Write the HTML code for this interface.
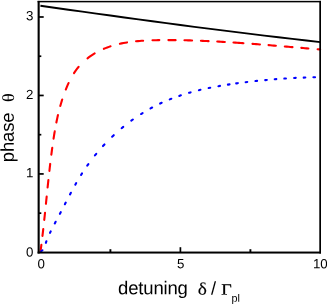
<!DOCTYPE html>
<html><head><meta charset="utf-8">
<style>
html,body{margin:0;padding:0;background:#fff;}
body{width:327px;height:305px;overflow:hidden;position:relative;font-family:"Liberation Sans",sans-serif;}
svg{position:absolute;left:0;top:0;display:block;will-change:transform;}
text{font-family:"Liberation Sans",sans-serif;fill:#000;}
.ser{font-family:"Liberation Serif",serif;}
</style></head><body>
<svg width="327" height="305" viewBox="0 0 327 305">
<rect width="327" height="305" fill="#fff"/>
<path d="M40.40,5.81 L54.40,7.77 L68.40,9.73 L82.40,11.67 L96.40,13.62 L110.40,15.55 L124.40,17.47 L138.40,19.38 L152.40,21.27 L166.40,23.14 L180.40,25.00 L194.40,26.83 L208.40,28.63 L222.40,30.42 L236.40,32.17 L250.40,33.91 L264.40,35.61 L278.40,37.28 L292.40,38.92 L306.40,40.54 L320.40,42.12" stroke="#000" stroke-width="1.9" fill="none"/>
<path d="M40.46,251.80 L40.70,249.98 L40.94,248.16 L41.18,246.34 L41.37,244.88 M42.45,235.99 L42.67,234.17 L42.88,232.35 L43.09,230.53 L43.24,229.15 M44.25,219.97 L44.44,218.15 L44.63,216.33 L44.83,214.51 L45.01,212.76 M45.93,203.81 L46.12,201.99 L46.30,200.17 L46.49,198.35 L46.67,196.53 M47.60,187.50 L47.79,185.68 L47.98,183.87 L48.18,182.05 L48.37,180.23 L48.38,180.15 M49.40,170.84 L49.61,169.02 L49.82,167.21 L50.03,165.39 L50.20,163.93 M51.34,154.62 L51.58,152.81 L51.82,150.99 L52.06,149.17 L52.24,147.86 M53.55,138.71 L53.83,136.89 L54.11,135.08 L54.41,133.27 L54.71,131.46 L54.73,131.31 M56.36,122.51 L56.72,120.71 L57.10,118.91 L57.49,117.12 L57.90,115.33 L57.95,115.12 M60.28,105.96 L60.79,104.19 L61.31,102.43 L61.85,100.68 L62.22,99.49 M65.79,89.52 L66.48,87.81 L67.20,86.10 L67.94,84.42 L68.56,83.07 M74.00,73.10 L75.01,71.58 L76.06,70.10 L77.15,68.64 L78.28,67.23 L78.60,66.84 M87.52,58.31 L88.98,57.21 L90.47,56.15 L91.99,55.13 L93.53,54.15 L94.66,53.47 M103.87,48.83 L105.56,48.14 L107.26,47.49 L108.97,46.87 L110.55,46.34 M119.89,43.79 L121.68,43.40 L123.47,43.05 L125.27,42.72 L127.01,42.43 M136.06,41.26 L137.90,41.09 L139.75,40.94 L141.59,40.80 L143.15,40.70 M152.49,40.28 L154.35,40.23 L156.20,40.19 L158.05,40.16 L159.31,40.14 M168.39,40.09 L170.23,40.09 L172.06,40.10 L173.90,40.11 L175.59,40.13 M184.44,40.27 L186.26,40.31 L188.09,40.36 L189.91,40.41 L191.74,40.46 L192.10,40.47 M200.92,40.79 L202.74,40.86 L204.56,40.94 L206.38,41.02 L208.20,41.11 L208.57,41.12 M217.25,41.57 L219.07,41.67 L220.90,41.77 L222.72,41.88 L224.55,41.99 L224.84,42.01 M233.48,42.55 L235.31,42.67 L237.14,42.79 L238.97,42.92 L240.80,43.05 L242.64,43.17 L243.44,43.23 M252.46,43.89 L254.30,44.03 L256.13,44.17 L257.96,44.31 L259.80,44.45 L259.94,44.47 M268.53,45.15 L270.36,45.29 L272.19,45.44 L274.02,45.59 L275.86,45.74 M284.79,46.48 L286.62,46.64 L288.45,46.79 L290.28,46.94 L292.11,47.10 L292.48,47.13 M301.31,47.87 L303.14,48.02 L304.96,48.18 L306.78,48.33 L308.38,48.46 M317.62,49.23 L319.43,49.37 L320.16,49.43" stroke="#ff0000" stroke-width="2.1" stroke-linecap="round" fill="none"/>
<path d="M40.90,251.56 L42.44,250.26 M45.87,242.80 L46.42,241.21 M49.98,232.89 L50.73,231.33 M54.77,223.43 L55.64,221.79 M59.90,213.79 L60.77,212.15 M64.89,204.25 L65.74,202.60 M70.00,194.43 L70.87,192.79 M75.29,184.70 L76.20,183.09 M81.04,174.96 L82.03,173.40 M87.23,165.64 L88.38,164.03 M94.92,155.44 L96.25,153.82 M102.96,146.07 L104.47,144.45 M112.14,136.69 L113.75,135.17 M121.63,128.20 L123.25,126.87 M131.28,120.66 L132.88,119.51 M141.04,114.02 L142.60,113.04 M150.52,108.42 L152.14,107.54 M160.12,103.54 L161.68,102.81 M169.73,99.38 L171.33,98.75 M179.24,95.89 L180.88,95.34 M189.05,92.83 L190.61,92.39 M198.91,90.22 L200.49,89.84 M208.65,88.03 L210.24,87.71 M218.41,86.16 L220.01,85.88 M227.92,84.59 L229.53,84.35 M236.20,83.39 L237.81,83.18 M245.66,82.18 L247.26,81.99 M255.50,81.06 L257.10,80.89 M265.26,80.08 L266.86,79.93 M274.72,79.26 L276.32,79.14 M284.32,78.57 L285.92,78.47 M294.13,78.00 L295.74,77.92 M303.70,77.59 L305.32,77.53 M313.41,77.31 L315.04,77.28" stroke="#0000ff" stroke-width="2.1" stroke-linecap="round" fill="none"/>
<g fill="#000">
<rect x="37.6" y="0.9" width="2.1" height="252.6"/>
<rect x="37.6" y="251.55" width="283.4" height="2"/>
<rect x="37.6" y="0.85" width="283.4" height="1.5"/>
<rect x="319.3" y="0.9" width="1.7" height="252.6"/>
<rect x="39" y="173.08" width="4.7" height="1.7"/>
<rect x="39" y="94.61" width="4.7" height="1.7"/>
<rect x="39" y="16.14" width="4.7" height="1.7"/>
<rect x="39" y="212.32" width="2.3" height="1.7"/>
<rect x="39" y="133.84" width="2.3" height="1.7"/>
<rect x="39" y="55.37" width="2.3" height="1.7"/>
<rect x="179.55" y="247.2" width="1.7" height="5"/>
<rect x="109.45" y="249.2" width="1.9" height="3"/>
<rect x="249.45" y="249.2" width="1.9" height="3"/>
</g>
<text transform="translate(33.4,20.3) rotate(0.03)" font-size="13.3" text-anchor="end">3</text>
<text transform="translate(33.4,99.0) rotate(0.03)" font-size="13.3" text-anchor="end">2</text>
<text transform="translate(33.4,177.2) rotate(0.03)" font-size="13.3" text-anchor="end">1</text>
<text transform="translate(33.4,256.6) rotate(0.03)" font-size="13.3" text-anchor="end">0</text>
<text transform="translate(41.2,268.15) rotate(0.03)" font-size="13.3" text-anchor="middle">0</text>
<text transform="translate(180.75,268.15) rotate(0.03)" font-size="13.3" text-anchor="middle">5</text>
<text transform="translate(320.3,268.15) rotate(0.03)" font-size="13.3" text-anchor="middle">10</text>
<text transform="translate(118.1,294.3) rotate(0.03)" font-size="18.5" letter-spacing="-0.17">detuning</text>
<text transform="translate(197.8,294.4) rotate(0.03) scale(1.12,1.0)" font-size="17.3" class="ser" stroke="#000" stroke-width="0.12">δ</text>
<text transform="translate(211,294.4) rotate(0.03)" font-size="18.2">/</text>
<text transform="translate(221.3,294.4) rotate(0.03) scale(1.17,1.0)" font-size="15.5" class="ser" stroke="#000" stroke-width="0.25">Γ</text>
<text transform="translate(231.4,301.7) rotate(0.03)" font-size="10.8">pl</text>
<text transform="translate(13.8,162.2) rotate(-89.97)" font-size="18.5" letter-spacing="-0.17">phase</text>
<text transform="translate(13.9,102.1) rotate(-89.97) scale(1.07,1.0)" font-size="17.0" class="ser">θ</text>
</svg>
</body></html>
